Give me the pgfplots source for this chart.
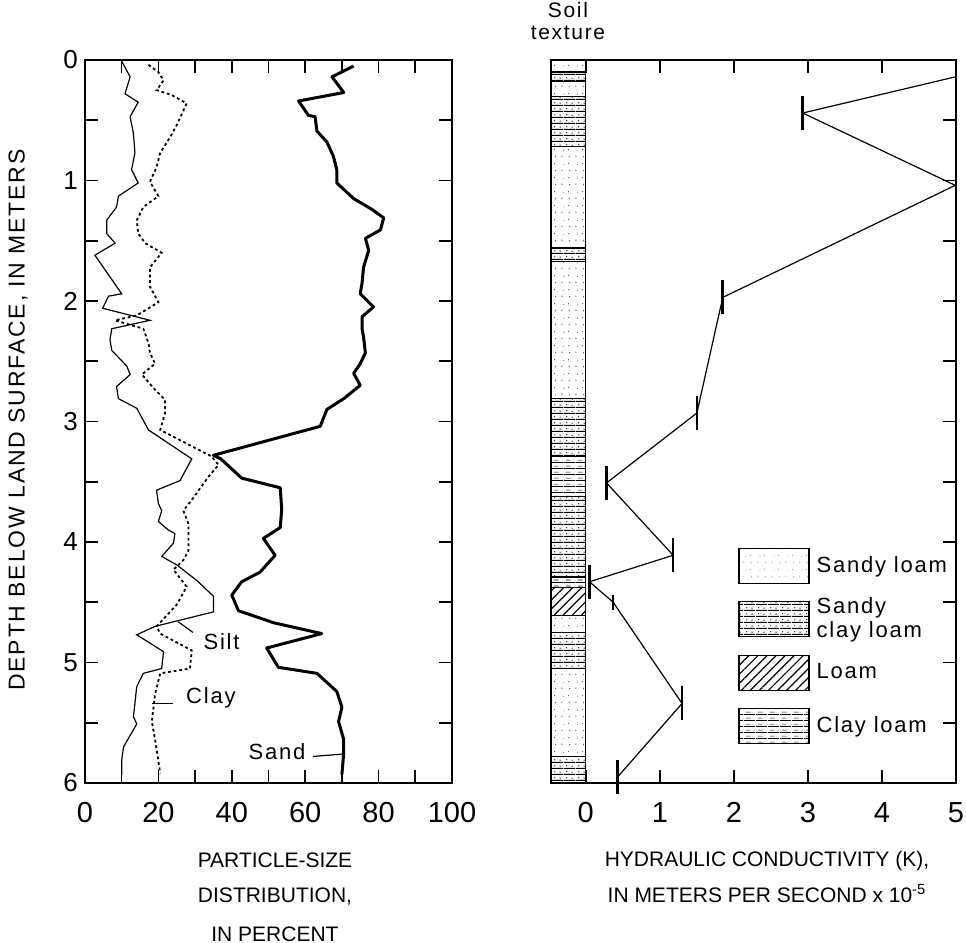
\documentclass[border=0pt]{standalone}
\usepackage{fontspec}
\setmainfont{Liberation Sans}
\newfontfamily\spaced[LetterSpace=8]{Liberation Sans}
\usepackage{pgfplots}
\pgfplotsset{compat=1.18}
\usetikzlibrary{patterns,patterns.meta}

\tikzdeclarepattern{
  name=sldots, type=uncolored,
  bounding box={(0pt,0pt) and (7pt,7pt)},
  tile size={(7pt,7pt)},
  code={\fill (1pt,1.5pt) circle (0.35pt); \fill (4.5pt,5pt) circle (0.3pt); \fill (5pt,1.2pt) circle (0.3pt); \fill (2pt,4.6pt) circle (0.25pt);}
}
\tikzdeclarepattern{
  name=scl, type=uncolored,
  bounding box={(0pt,0pt) and (6pt,2.8pt)},
  tile size={(6pt,2.8pt)},
  code={\fill (0pt,0pt) rectangle (6pt,0.6pt); \fill (1.5pt,1.7pt) circle (0.35pt); \fill (4.3pt,1.5pt) circle (0.35pt);}
}
\tikzdeclarepattern{
  name=cl, type=uncolored,
  bounding box={(0pt,0pt) and (6pt,3pt)},
  tile size={(6pt,3pt)},
  code={\fill (0pt,0pt) rectangle (6pt,0.55pt); \fill (1pt,1.5pt) rectangle (3.5pt,1.8pt);}
}

\pgfplotsset{
  soilbox/.style={draw=black, line width=0.6pt, forget plot},
  SL/.style={soilbox, pattern=sldots, pattern color=black!70},
  SCL/.style={soilbox, pattern=scl, pattern color=black},
  CL/.style={soilbox, pattern=cl, pattern color=black},
  LO/.style={soilbox, pattern={Lines[angle=45,distance=3.2pt,line width=0.6pt]}, pattern color=black},
}

\begin{document}
\begin{tikzpicture}
\useasboundingbox (0pt,0pt) rectangle (483pt,-471.5pt);

% ---------------- left panel ----------------
\begin{axis}[
  at={(42.5pt,-30pt)}, anchor=north west,
  scale only axis, width=183.5pt, height=361.5pt,
  xmin=0, xmax=100, ymin=0, ymax=6, y dir=reverse,
  xtick={0,20,...,100}, minor xtick={10,30,...,90},
  ytick={0,1,...,6}, minor ytick={0.5,1.5,...,5.5},
  tick align=inside, major tick length=6.5pt, minor tick length=6.5pt,
  xticklabel pos=left, yticklabel pos=left,
  axis line style={line width=1.2pt},
  every tick/.style={black, line width=0.8pt},
  xticklabel style={font=\fontsize{14.5}{16}\selectfont, yshift=-6pt},
  yticklabel style={font=\fontsize{13}{15}\selectfont},
  /pgf/number format/assume math mode=true,
]
% Sand
\addplot[black, line width=1.5pt, line join=round] coordinates {
(73.2,0.05) (67.3,0.14) (70.5,0.27) (58.2,0.34) (60.9,0.46) (62.7,0.47) (63.2,0.59)
(65.9,0.68) (67.7,0.80) (68.6,0.91) (68.6,1.02) (73.2,1.15) (78.2,1.24) (81.4,1.31)
(80.5,1.41) (76.4,1.48) (77.3,1.58) (75.9,1.72) (75.5,1.85) (75.0,1.94) (78.6,2.05)
(75.5,2.13) (75.5,2.23) (75.9,2.30) (76.4,2.43) (75.0,2.52) (73.2,2.60) (75.0,2.70)
(70.5,2.81) (65.9,2.90) (64.1,3.04) (35.0,3.28) (37.0,3.31) (42.7,3.47) (53.2,3.55)
(53.6,3.73) (53.2,3.88) (48.6,3.97) (51.8,4.11) (47.7,4.25) (42.7,4.33) (40.0,4.44)
(41.8,4.57) (51.4,4.67) (64.5,4.76) (49.5,4.88) (52.7,5.04) (63.2,5.09) (68.6,5.24)
(70.0,5.37) (69.1,5.49) (70.5,5.64) (70.5,5.75) (70.0,5.93)
};
% Silt (thin solid)
\addplot[black, line width=0.6pt] coordinates {
(10.0,0.01) (12.3,0.14) (10.9,0.28) (14.5,0.35) (12.3,0.47) (13.2,0.61) (13.6,0.77)
(12.7,0.91) (14.5,1.02) (9.1,1.13) (8.6,1.22) (5.9,1.33) (5.9,1.44) (8.2,1.52)
(2.7,1.62) (10.0,1.94) (6.4,1.96) (4.8,2.06) (17.7,2.16) (7.3,2.23) (6.8,2.32)
(7.3,2.41) (11.4,2.54) (12.3,2.61) (8.6,2.71) (9.1,2.81) (14.1,2.89) (17.3,3.07)
(29.1,3.31) (25.9,3.49) (19.5,3.57) (20.0,3.68) (20.9,3.74) (20.0,3.83) (22.7,3.90)
(24.5,3.93) (24.1,4.01) (20.9,4.12) (25.0,4.19) (30.5,4.32) (35.0,4.45) (35.0,4.58)
(19.1,4.70) (14.1,4.77) (21.4,4.91) (20.9,5.05) (15.9,5.09) (14.1,5.20) (13.2,5.45)
(14.1,5.51) (10.5,5.70) (10.0,5.81) (10.0,5.93)
};
% Clay (dotted)
\addplot[black, line width=0.9pt, dash pattern=on 1.4pt off 1.4pt] coordinates {
(17.3,0.04) (20.0,0.10) (21.4,0.17) (19.5,0.25) (23.6,0.29) (27.7,0.36) (25.0,0.54)
(23.2,0.64) (20.5,0.77) (19.5,0.89) (17.7,1.01) (20.0,1.13) (15.9,1.22) (14.1,1.33)
(14.5,1.44) (16.4,1.52) (20.9,1.60) (17.7,1.72) (17.7,1.88) (20.0,2.01) (14.1,2.12)
(8.2,2.16) (15.9,2.23) (17.3,2.35) (17.7,2.43) (19.1,2.52) (15.5,2.61) (18.6,2.72)
(21.8,2.82) (21.8,2.93) (20.5,3.07) (34.5,3.29) (36.4,3.36) (33.6,3.46) (29.1,3.65)
(26.8,3.74) (28.2,3.85) (28.2,4.07) (26.8,4.15) (24.1,4.23) (27.7,4.37) (25.0,4.52)
(19.5,4.70) (20.5,4.76) (29.1,4.90) (28.6,5.05) (20.5,5.09) (19.1,5.26) (18.2,5.49)
(19.1,5.64) (20.5,5.92)
};
% annotations
\draw[line width=0.6pt] (axis cs:25.3,4.66) -- (axis cs:29.4,4.75);
\node[font=\spaced\fontsize{11}{13}\selectfont] at (axis cs:37.2,4.83) {Silt};
\draw[line width=0.6pt] (axis cs:18.3,5.34) -- (axis cs:24,5.34);
\node[font=\spaced\fontsize{11}{13}\selectfont] at (axis cs:34.3,5.29) {Clay};
\draw[line width=0.6pt] (axis cs:62.1,5.78) -- (axis cs:70,5.76);
\node[font=\spaced\fontsize{11}{13}\selectfont] at (axis cs:52.3,5.74) {Sand};
\end{axis}

% ---------------- right panel ----------------
\begin{axis}[
  at={(275.5pt,-30pt)}, anchor=north west,
  scale only axis, width=202.5pt, height=361.5pt,
  xmin=-0.47, xmax=5, ymin=0, ymax=6, y dir=reverse,
  xtick={0,1,...,5},
  ytick={0,0.5,...,6}, yticklabels={}, ytick pos=right,
  tick align=inside, major tick length=6.5pt,
  xticklabel pos=left,
  axis line style={line width=1.2pt},
  every tick/.style={black, line width=0.8pt},
  xticklabel style={font=\fontsize{14.5}{16}\selectfont, yshift=-6pt},
  /pgf/number format/assume math mode=true,
  legend image code/.code={\draw[#1] (0pt,-8.75pt) rectangle (35pt,8.75pt);},
  legend style={at={(axis cs:2.056,3.996)}, anchor=north west, draw=none, fill=none,
    inner sep=0pt, row sep=2.7pt, column sep=3.5pt,
    font=\spaced\fontsize{11}{12}\selectfont,
    cells={anchor=west, align=left},
    nodes={inner sep=0pt, minimum height=24pt}},
]
% soil texture column
\addplot[SL]  coordinates {(-0.47,0.00) (0,0.00) (0,0.10) (-0.47,0.10)} -- cycle;
\addplot[SCL] coordinates {(-0.47,0.10) (0,0.10) (0,0.18) (-0.47,0.18)} -- cycle;
\addplot[SL]  coordinates {(-0.47,0.18) (0,0.18) (0,0.30) (-0.47,0.30)} -- cycle;
\addplot[SCL] coordinates {(-0.47,0.30) (0,0.30) (0,0.72) (-0.47,0.72)} -- cycle;
\addplot[SL]  coordinates {(-0.47,0.72) (0,0.72) (0,1.56) (-0.47,1.56)} -- cycle;
\addplot[SCL] coordinates {(-0.47,1.56) (0,1.56) (0,1.67) (-0.47,1.67)} -- cycle;
\addplot[SL]  coordinates {(-0.47,1.67) (0,1.67) (0,2.81) (-0.47,2.81)} -- cycle;
\addplot[SCL] coordinates {(-0.47,2.81) (0,2.81) (0,3.29) (-0.47,3.29)} -- cycle;
\addplot[CL]  coordinates {(-0.47,3.29) (0,3.29) (0,3.62) (-0.47,3.62)} -- cycle;
\addplot[SCL] coordinates {(-0.47,3.62) (0,3.62) (0,4.29) (-0.47,4.29)} -- cycle;
\addplot[CL]  coordinates {(-0.47,4.29) (0,4.29) (0,4.38) (-0.47,4.38)} -- cycle;
\addplot[LO]  coordinates {(-0.47,4.38) (0,4.38) (0,4.61) (-0.47,4.61)} -- cycle;
\addplot[SL]  coordinates {(-0.47,4.61) (0,4.61) (0,4.75) (-0.47,4.75)} -- cycle;
\addplot[SCL] coordinates {(-0.47,4.75) (0,4.75) (0,5.05) (-0.47,5.05)} -- cycle;
\addplot[SL]  coordinates {(-0.47,5.05) (0,5.05) (0,5.78) (-0.47,5.78)} -- cycle;
\addplot[SCL] coordinates {(-0.47,5.78) (0,5.78) (0,6.00) (-0.47,6.00)} -- cycle;
% hydraulic conductivity
\addplot[black, line width=0.6pt, forget plot] coordinates {
(4.99,0.14) (2.93,0.44) (4.99,1.04) (1.85,1.97) (1.50,2.93) (0.28,3.51)
(1.18,4.11) (0.05,4.33) (0.37,4.50) (1.30,5.34) (0.43,5.95)
};
\addplot[black, only marks, mark=|, mark size=8.5pt, mark options={line width=1.3pt}, forget plot] coordinates {
(2.93,0.44) (1.85,1.97) (1.50,2.93) (0.28,3.51) (1.18,4.11) (0.05,4.33) (1.30,5.34) (0.43,5.95)
};
\addplot[black, only marks, mark=|, mark size=3.8pt, mark options={line width=1.3pt}, forget plot] coordinates {
(0.37,4.50)
};
% legend
\addlegendimage{draw=black, line width=0.6pt, pattern=sldots, pattern color=black!40}
\addlegendentry{Sandy loam}
\addlegendimage{draw=black, line width=0.6pt, pattern=scl, pattern color=black}
\addlegendentry{Sandy\\clay loam}
\addlegendimage{draw=black, line width=0.6pt, pattern={Lines[angle=45,distance=3.2pt,line width=0.6pt]}, pattern color=black}
\addlegendentry{Loam}
\addlegendimage{draw=black, line width=0.6pt, pattern=cl, pattern color=black}
\addlegendentry{Clay loam}
\end{axis}

% ---------------- texts ----------------
\node[rotate=90, font=\spaced\fontsize{11.5}{13}\selectfont] at (9pt,-210pt) {DEPTH BELOW LAND SURFACE, IN METERS};
\node[font=\spaced\fontsize{10.5}{12}\selectfont, align=center] at (284pt,-10.5pt) {Soil\\[-1pt]texture};
\node[font=\fontsize{10.5}{12}\selectfont] at (137.5pt,-430pt) {PARTICLE-SIZE};
\node[font=\fontsize{10.5}{12}\selectfont] at (137.5pt,-448.5pt) {DISTRIBUTION,};
\node[font=\fontsize{10.5}{12}\selectfont] at (137.5pt,-467pt) {IN PERCENT};
\node[font=\fontsize{10.5}{12}\selectfont] at (383.5pt,-430.5pt) {HYDRAULIC CONDUCTIVITY (K),};
\node[font=\fontsize{10.5}{12}\selectfont] at (383.5pt,-447pt) {IN METERS PER SECOND x 10\textsuperscript{-5}};
\end{tikzpicture}
\end{document}
